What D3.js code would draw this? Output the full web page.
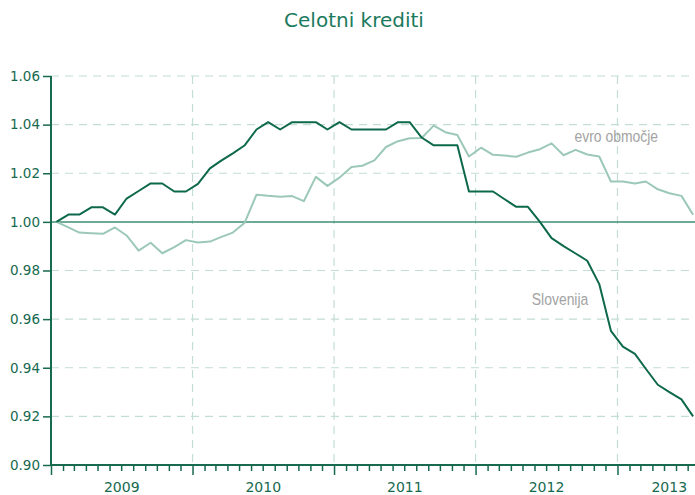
<!DOCTYPE html>
<html>
<head>
<meta charset="utf-8">
<script src="https://cdn.jsdelivr.net/npm/d3@7"></script>
<style>
  body { margin: 0; background: #fff; }
  svg { display: block; }
</style>
</head>
<body>
<div id="chart"></div>
<script>
// data (monthly, Jan 2009 - Jul 2013, index 2009-01 = 1)
var startYear = 2009;
var yearLabels = ['2009', '2010', '2011', '2012', '2013'];
var yTicks = [0.90, 0.92, 0.94, 0.96, 0.98, 1.00, 1.02, 1.04, 1.06];

var slovenija = [
  1.000, 1.003, 1.003, 1.006, 1.006, 1.003, 1.0096, 1.0127, 1.0158, 1.0158, 1.0125, 1.0125,
  1.0156, 1.022, 1.0251, 1.0282, 1.0314, 1.038, 1.041, 1.038, 1.041, 1.041, 1.041, 1.038,
  1.041, 1.038, 1.038, 1.038, 1.038, 1.041, 1.041, 1.0347, 1.0315, 1.0315, 1.0315, 1.0125,
  1.0125, 1.0125, 1.0094, 1.0062, 1.0062, 1.000, 0.9933, 0.990, 0.987, 0.984, 0.9744, 0.9552,
  0.9487, 0.9457, 0.9396, 0.933, 0.930, 0.927, 0.920
];

var evroObmocje = [
  1.000, 0.9977, 0.9956, 0.9953, 0.9951, 0.9977, 0.9944, 0.9882, 0.9914, 0.9871, 0.9896, 0.9925,
  0.9915, 0.9919, 0.9937, 0.9956, 0.9995, 1.0112, 1.0107, 1.0103, 1.0106, 1.0085, 1.0185, 1.0148,
  1.0182, 1.0226, 1.0231, 1.0253, 1.0308, 1.0332, 1.0344, 1.0345, 1.0396, 1.0369, 1.0357, 1.0269,
  1.0305, 1.0276, 1.0273, 1.0268, 1.0285, 1.0299, 1.0323, 1.0274, 1.0296, 1.0277, 1.0269, 1.0166,
  1.0166, 1.0158, 1.0166, 1.0134, 1.0118, 1.0107, 1.0029
];

// colours
var cAxis  = '#17694f';
var cDark  = '#0d684c';
var cLight = '#9cc8b7';
var cGrid  = '#c2ddd2';
var cZero  = '#3f8e74';
var cLabel = '#a3a3a3';

var W = 695, H = 495;
var margin = { top: 76, left: 51, bottom: 30 };

// helper: mid-month date for index i
function monthDate(i) {
  return new Date(startYear, i, 15);
}

var xScale = d3.scaleTime()
  .domain([new Date(2009, 0, 1), new Date(2013, 8, 25)])
  .range([margin.left, 721]);

var yScale = d3.scaleLinear()
  .domain([0.90, 1.06])
  .range([H - margin.bottom, margin.top]);

var svg = d3.select('#chart').append('svg')
  .attr('width', W)
  .attr('height', H)
  .style('font-family', '"DejaVu Sans", sans-serif');

// title
svg.append('text')
  .attr('x', 354)
  .attr('y', 27)
  .attr('text-anchor', 'middle')
  .attr('fill', '#1b7a5d')
  .style('font-size', '20px')
  .text('Celotni krediti');

// horizontal grid
svg.append('g')
  .selectAll('line')
  .data(yTicks.filter(function(d) { return d > 0.90 && Math.abs(d - 1) > 1e-9; }))
  .enter().append('line')
    .attr('x1', margin.left)
    .attr('x2', W)
    .attr('y1', function(d) { return yScale(d); })
    .attr('y2', function(d) { return yScale(d); })
    .attr('stroke', cGrid)
    .attr('stroke-width', 1.2)
    .attr('stroke-dasharray', '8,6');

// vertical grid at year starts
var yearStarts = yearLabels.slice(1).map(function(y) { return new Date(+y, 0, 1); });
svg.append('g')
  .selectAll('line')
  .data(yearStarts)
  .enter().append('line')
    .attr('x1', function(d) { return xScale(d); })
    .attr('x2', function(d) { return xScale(d); })
    .attr('y1', yScale(1.06))
    .attr('y2', yScale(0.90))
    .attr('stroke', cGrid)
    .attr('stroke-width', 1.2)
    .attr('stroke-dasharray', '8,6');

// 1.00 line
svg.append('line')
  .attr('x1', margin.left)
  .attr('x2', W)
  .attr('y1', yScale(1))
  .attr('y2', yScale(1))
  .attr('stroke', cZero)
  .attr('stroke-width', 1.5);

// lines
var line = d3.line()
  .x(function(d, i) { return xScale(monthDate(i)); })
  .y(function(d) { return yScale(d); });

svg.append('path')
  .datum(evroObmocje)
  .attr('d', line)
  .attr('fill', 'none')
  .attr('stroke', cLight)
  .attr('stroke-width', 2)
  .attr('stroke-linejoin', 'round');

svg.append('path')
  .datum(slovenija)
  .attr('d', line)
  .attr('fill', 'none')
  .attr('stroke', cDark)
  .attr('stroke-width', 2)
  .attr('stroke-linejoin', 'round');

// y axis
var yAxis = d3.axisLeft(yScale)
  .tickValues(yTicks)
  .tickSize(8)
  .tickPadding(3)
  .tickFormat(d3.format('.2f'));

var yG = svg.append('g')
  .attr('transform', 'translate(' + margin.left + ',0)')
  .call(yAxis);
yG.select('.domain').attr('stroke', cAxis).attr('stroke-width', 2).attr('d', 'M0,' + yScale(1.06) + 'V' + yScale(0.90));
yG.selectAll('.tick line').attr('stroke', cAxis).attr('stroke-width', 1.5);
yG.selectAll('.tick text')
  .attr('fill', cAxis)
  .style('font-size', '13.5px')
  .style('font-family', '"DejaVu Sans", sans-serif');

// x axis: monthly minor ticks, longer ticks at year starts
var xAxisMinor = d3.axisBottom(xScale)
  .ticks(d3.timeMonth.every(1))
  .tickSize(6)
  .tickFormat('');

var xG = svg.append('g')
  .attr('transform', 'translate(0,' + yScale(0.90) + ')')
  .call(xAxisMinor);
xG.select('.domain').attr('stroke', cAxis).attr('stroke-width', 2).attr('d', 'M' + margin.left + ',0H' + W);
xG.selectAll('.tick line')
  .attr('stroke', cAxis)
  .attr('stroke-width', 1.5)
  .attr('y2', function(d) { return d.getMonth() === 0 ? 10 : 6; });

// year labels centred in each (visible) year
var xEnd = xScale.domain()[1];
svg.append('g')
  .selectAll('text')
  .data(yearLabels)
  .enter().append('text')
    .attr('x', function(d) {
      var a = new Date(+d, 0, 1);
      var b = new Date(+d + 1, 0, 1);
      if (b > xEnd) b = xEnd;
      return (xScale(a) + xScale(b)) / 2;
    })
    .attr('y', 492)
    .attr('text-anchor', 'middle')
    .attr('fill', cAxis)
    .style('font-size', '14px')
    .text(function(d) { return d; });

// series labels (narrowed sans to mimic a condensed face)
function seriesLabel(txt, date, value) {
  svg.append('text')
    .attr('transform', 'translate(' + xScale(date) + ',' + yScale(value) + ') scale(0.82,1)')
    .attr('fill', cLabel)
    .style('font-family', '"Liberation Sans", Arial, sans-serif')
    .style('font-size', '17px')
    .text(txt);
}
seriesLabel('evro območje', new Date(2012, 8, 12), 1.0329);
seriesLabel('Slovenija', new Date(2012, 4, 25), 0.9659);
</script>
</body>
</html>
